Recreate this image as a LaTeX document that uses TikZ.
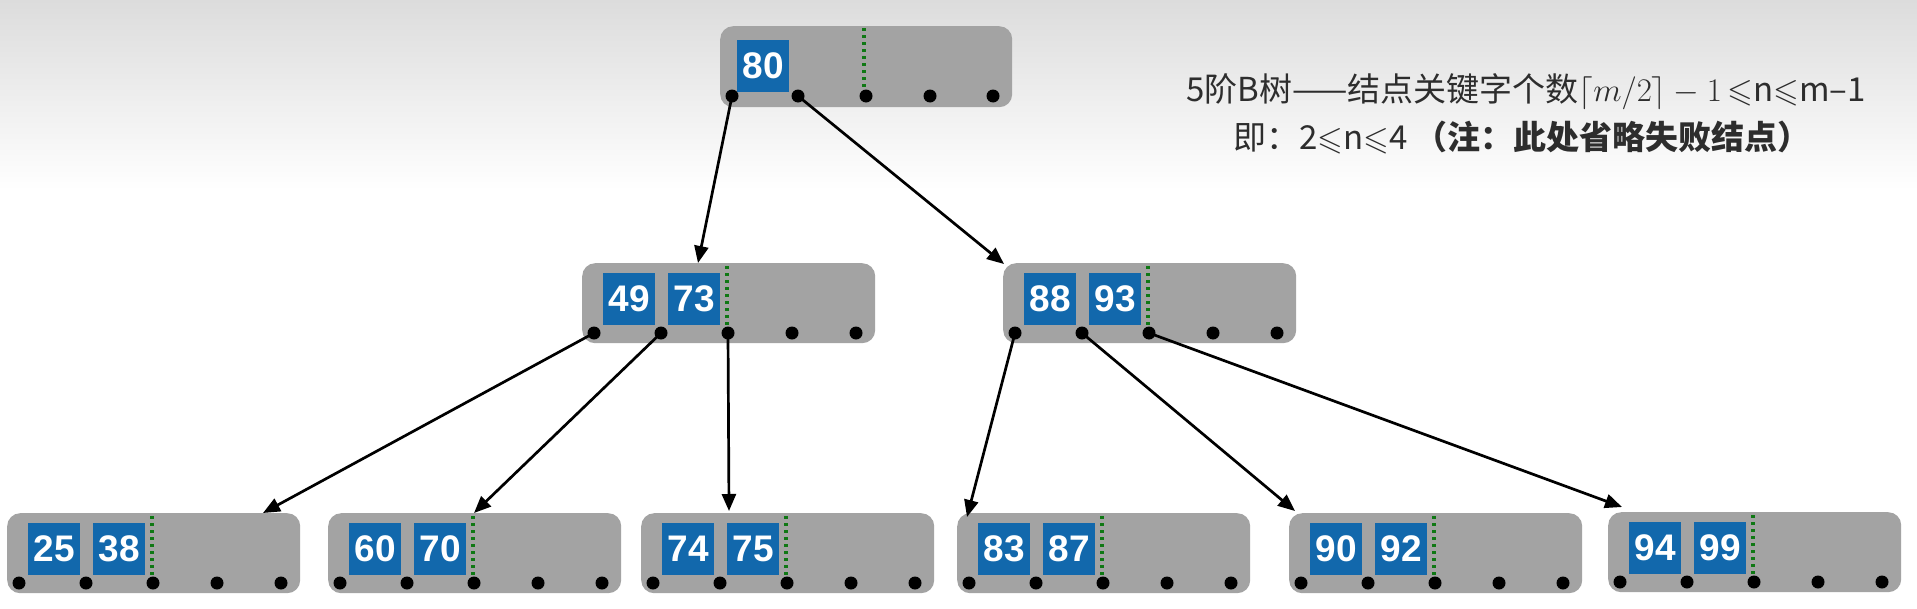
\RequirePackage{fix-cm}
\documentclass[tikz,border=0pt]{standalone}
\usepackage{fontspec}
\usepackage{amssymb}
\DeclareFontFamily{U}{msa}{}
\DeclareFontShape{U}{msa}{m}{n}{<-6>msam5<6-8>msam7<8->msam10}{}
\setmainfont{Liberation Sans}
\newfontfamily\cjk{Noto Sans CJK SC}
\usetikzlibrary{arrows.meta}
\definecolor{boxgray}{RGB}{163,163,163}
\definecolor{keyblue}{RGB}{18,104,172}
\definecolor{dotgreen}{RGB}{15,120,20}
\definecolor{txtgray}{RGB}{45,45,45}
\definecolor{bgtop}{RGB}{220,220,220}
\tikzset{
  bbox/.style={rectangle, rounded corners=13pt, fill=boxgray, minimum width=293pt, minimum height=80pt, inner sep=0pt},
  keybox/.style={rectangle, fill=keyblue, text=white, minimum size=52pt, inner sep=0pt, font=\fontsize{37}{37}\selectfont\bfseries},
  dotn/.style={circle, fill=black, minimum size=13pt, inner sep=0pt},
  gdots/.style={draw=dotgreen, line width=3.6pt, dash pattern=on 3.4pt off 3.6pt},
  arr/.style={draw=black, line width=2.7pt, -{Triangle[length=17pt,width=14pt]}},
  note/.style={text=txtgray, font=\fontsize{33}{39}\selectfont, inner sep=0pt}
}
\newcommand\btnode[5]{%
  \node[bbox,anchor=north west] (#1) at (#2,#3) {};
  \node[keybox,anchor=north west] (#1-k1) at (#2+21,#3+10) {#4};
  \node[keybox,anchor=north west] (#1-k2) at (#2+86,#3+10) {#5};
  \draw[gdots] (#2+145,#3+3) -- (#2+145,#3+62);
  \foreach \i/\dx in {1/12,2/79,3/146,4/210,5/274}{
    \node[dotn] (#1-d\i) at (#2+\dx,#3+70) {};
  }%
}
\begin{document}
\begin{tikzpicture}[x=1pt,y=-1pt]
\useasboundingbox (0,0) rectangle (1917,608);
\fill[white] (0,0) rectangle (1917,608);
\shade[top color=bgtop, bottom color=white] (0,0) rectangle (1917,190);

% root node
\node[bbox,anchor=north west,minimum width=292pt,minimum height=81pt] (r) at (720,26) {};
\node[keybox,anchor=north west] (r-k1) at (737,40) {80};
\draw[gdots] (864,28) -- (864,88);
\foreach \i/\dx in {1/12,2/78,3/146,4/210,5/273}{
  \node[dotn] (r-d\i) at (720+\dx,96) {};
}

% level 2
\btnode{L}{582}{263}{49}{73}
\btnode{R}{1003}{263}{88}{93}

% leaves
\btnode{B1}{7}{513}{25}{38}
\btnode{B2}{328}{513}{60}{70}
\btnode{B3}{641}{513}{74}{75}
\btnode{B4}{957}{513}{83}{87}
\btnode{B5}{1289}{513}{90}{92}
\btnode{B6}{1608}{512}{94}{99}

% connectors
\draw[arr] (r-d1.center) -- ([xshift=116pt]L.north west);
\draw[arr] (r-d2.center) -- ([xshift=1pt,yshift=-1pt]R.north west);
\draw[arr] (L-d1.center) -- ([xshift=256pt]B1.north west);
\draw[arr] (L-d2.center) -- ([xshift=146pt]B2.north west);
\draw[arr] (L-d3.center) -- ([xshift=88pt,yshift=2pt]B3.north west);
\draw[arr] (R-d1.center) -- ([xshift=10pt,yshift=-4pt]B4.north west);
\draw[arr] (R-d2.center) -- ([xshift=6pt,yshift=2pt]B5.north west);
\draw[arr] (R-d3.center) -- ([xshift=14pt,yshift=5pt]B6.north west);

% annotation
\node[note] (n1) at (1526,92) {{\cjk 5阶B树——结点关键字个数}$\lceil m/2\rceil - 1${\cjk\,$\leqslant$n$\leqslant$m–1}};
\node[note] (n2) at (1522,138) {{\cjk 即：2$\leqslant$n$\leqslant$4 \bfseries （注：此处省略失败结点）}};
\end{tikzpicture}
\end{document}
